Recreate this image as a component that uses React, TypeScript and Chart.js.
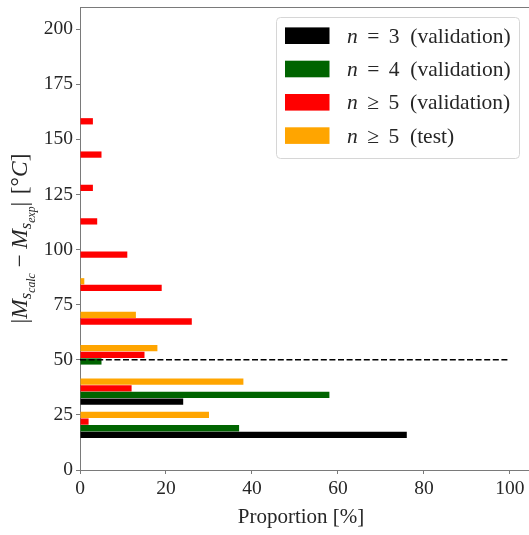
import { useEffect, useRef } from 'react';
import { Chart, registerables } from 'chart.js';

Chart.register(...registerables);

// Lower edge of each |Ms_calc - Ms_exp| bin (°C)
const errorBins = [15.9, 31.0, 46.2, 61.3, 76.5, 91.6, 106.7, 121.9, 137.0, 152.1];

// Share of compounds in each bin (%)
const n3Validation = [76, 24, 0, 0, 0, 0, 0, 0, 0, 0];
const n4Validation = [37, 58, 5, 0, 0, 0, 0, 0, 0, 0];
const n5Validation = [2, 12, 15, 26, 19, 11, 4, 3, 5, 3];
const n5Test = [30, 38, 18, 13, 1, 0, 0, 0, 0, 0];

const seriesLabels = ['n = 3 (validation)', 'n = 4 (validation)', 'n ≥ 5 (validation)', 'n ≥ 5 (test)'];
const seriesColors = ['#000000', '#006400', '#ff0000', '#ffa500'];
const seriesValues = [n3Validation, n4Validation, n5Validation, n5Test];

const xTickStep = 20;
const yTickStep = 25;
const thresholdC = 50;
const thresholdSpan = [0, 100];
const xTitle = 'Proportion [%]';

// Each series is shifted inside its bin by this many °C
const BAR_STEP = 3.03;

const FONT = '"Liberation Serif", "Times New Roman", serif';
const AXIS_COLOR = '#7a7a7a';
const TEXT_COLOR = '#262626';

type Seg = { t: string; italic?: boolean; scale?: number; dy?: number; gap?: number };

function segFont(s: Seg, size: number) {
  return `${s.italic ? 'italic ' : ''}${size * (s.scale ?? 1)}px ${FONT}`;
}

function measureSegs(ctx: CanvasRenderingContext2D, segs: Seg[], size: number) {
  let w = 0;
  segs.forEach((s, i) => {
    ctx.font = segFont(s, size);
    w += ctx.measureText(s.t).width + (i < segs.length - 1 ? (s.gap ?? 0) * size : 0);
  });
  return w;
}

function drawSegs(ctx: CanvasRenderingContext2D, segs: Seg[], x: number, y: number, size: number) {
  let cx = x;
  segs.forEach((s) => {
    ctx.font = segFont(s, size);
    ctx.fillText(s.t, cx, y + (s.dy ?? 0) * size);
    cx += ctx.measureText(s.t).width + (s.gap ?? 0) * size;
  });
}

// "n = 3 (validation)" -> italic variable, spaced relation, plain remainder
function legendSegs(label: string): Seg[] {
  const tokens = label.split(' ');
  return tokens.map((t, i) => ({ t, italic: i === 0, gap: i === 2 ? 0.5 : 0.44 }));
}

const yTitleSegs: Seg[] = [
  { t: '|' },
  { t: 'M', italic: true },
  { t: 's', italic: true, scale: 0.7, dy: 0.15 },
  { t: 'calc', italic: true, scale: 0.5, dy: 0.32, gap: 0.24 },
  { t: '−', gap: 0.24 },
  { t: 'M', italic: true },
  { t: 's', italic: true, scale: 0.7, dy: 0.15 },
  { t: 'exp', italic: true, scale: 0.5, dy: 0.32 },
  { t: '|', gap: 0.32 },
  { t: '[°' },
  { t: 'C', italic: true },
  { t: ']' },
];

const decorations = {
  id: 'decorations',
  afterDraw(chart: Chart) {
    const { ctx, chartArea } = chart;
    const W = chart.width;
    ctx.save();

    // top spine
    ctx.strokeStyle = AXIS_COLOR;
    ctx.lineWidth = 1;
    ctx.beginPath();
    ctx.moveTo(chartArea.left, chartArea.top + 0.5);
    ctx.lineTo(W, chartArea.top + 0.5);
    ctx.stroke();

    // legend
    const bw = 243;
    const bh = 141;
    const bx = chartArea.right - 10 - bw;
    const by = chartArea.top + 10;
    ctx.beginPath();
    ctx.roundRect(bx + 0.5, by + 0.5, bw, bh, 4);
    ctx.fillStyle = 'rgba(255,255,255,0.85)';
    ctx.fill();
    ctx.strokeStyle = '#d6d6d6';
    ctx.stroke();
    seriesLabels.forEach((label, i) => {
      const cy = by + 18.7 + 33.3 * i;
      ctx.fillStyle = seriesColors[i];
      ctx.fillRect(bx + 9, cy - 8.3, 44.5, 16.6);
      ctx.fillStyle = TEXT_COLOR;
      ctx.textBaseline = 'alphabetic';
      drawSegs(ctx, legendSegs(label), bx + 71, cy + 7, 21.5);
    });

    // x-axis title
    ctx.fillStyle = TEXT_COLOR;
    ctx.font = `21px ${FONT}`;
    ctx.textAlign = 'center';
    ctx.textBaseline = 'alphabetic';
    ctx.fillText(xTitle, 301, chartArea.bottom + 53);

    // y-axis title
    ctx.textAlign = 'left';
    const ySize = 23.5;
    const tw = measureSegs(ctx, yTitleSegs, ySize);
    ctx.translate(27, (chartArea.top + chartArea.bottom) / 2);
    ctx.rotate(-Math.PI / 2);
    drawSegs(ctx, yTitleSegs, -tw / 2, 0, ySize);

    ctx.restore();
  },
};

export default function App() {
  const canvasRef = useRef<HTMLCanvasElement | null>(null);

  useEffect(() => {
    const canvas = canvasRef.current;
    if (!canvas) return;

    const barSets = seriesValues.map((values, k) => ({
      type: 'bar' as const,
      label: seriesLabels[k],
      data: errorBins.map((b, i) => ({ x: values[i], y: b + k * BAR_STEP })),
      backgroundColor: seriesColors[k],
      borderWidth: 0,
      grouped: false,
      categoryPercentage: 1,
      barPercentage: 0.94,
      order: 1,
    }));

    const thresholdLine = {
      type: 'line' as const,
      label: 'threshold',
      data: thresholdSpan.map((x) => ({ x, y: thresholdC })),
      borderColor: '#000000',
      borderWidth: 1.4,
      borderDash: [6, 2.6],
      pointRadius: 0,
      fill: false,
      order: 0,
    };

    const chart = new Chart(canvas, {
      type: 'bar',
      data: { datasets: [...barSets, thresholdLine] as any },
      plugins: [decorations as any],
      options: {
        indexAxis: 'y',
        animation: false,
        responsive: false,
        events: [],
        layout: { padding: { top: 7, left: 0, right: 0, bottom: 0 } },
        plugins: {
          legend: { display: false },
          tooltip: { enabled: false },
          title: { display: false },
        },
        scales: {
          x: {
            type: 'linear',
            min: 0,
            max: 104.42,
            offset: false,
            ticks: {
              stepSize: xTickStep,
              includeBounds: false,
              padding: 3,
              color: TEXT_COLOR,
              font: { family: FONT, size: 19.5 },
            },
            grid: { display: true, offset: false, drawOnChartArea: false, drawTicks: true, tickLength: 4, color: AXIS_COLOR },
            border: { display: true, color: AXIS_COLOR, width: 1 },
            afterFit: (scale: any) => {
              scale.height = 65;
              scale.paddingLeft = 0;
              scale.paddingRight = 0;
            },
          },
          y: {
            type: 'linear',
            min: 0,
            max: 210,
            offset: false,
            ticks: {
              stepSize: yTickStep,
              includeBounds: false,
              padding: 3,
              color: TEXT_COLOR,
              font: { family: FONT, size: 19.5 },
            },
            grid: { display: true, offset: false, drawOnChartArea: false, drawTicks: true, tickLength: 4, color: AXIS_COLOR },
            border: { display: true, color: AXIS_COLOR, width: 1 },
            afterFit: (scale: any) => {
              scale.width = 80;
              scale.paddingTop = 0;
              scale.paddingBottom = 0;
            },
          },
        },
      } as any,
    });

    return () => chart.destroy();
  }, []);

  return (
    <div style={{ position: 'absolute', left: 0, top: 0, width: 529, height: 535, background: '#ffffff' }}>
      <canvas ref={canvasRef} width={529} height={535} style={{ display: 'block' }} />
    </div>
  );
}
